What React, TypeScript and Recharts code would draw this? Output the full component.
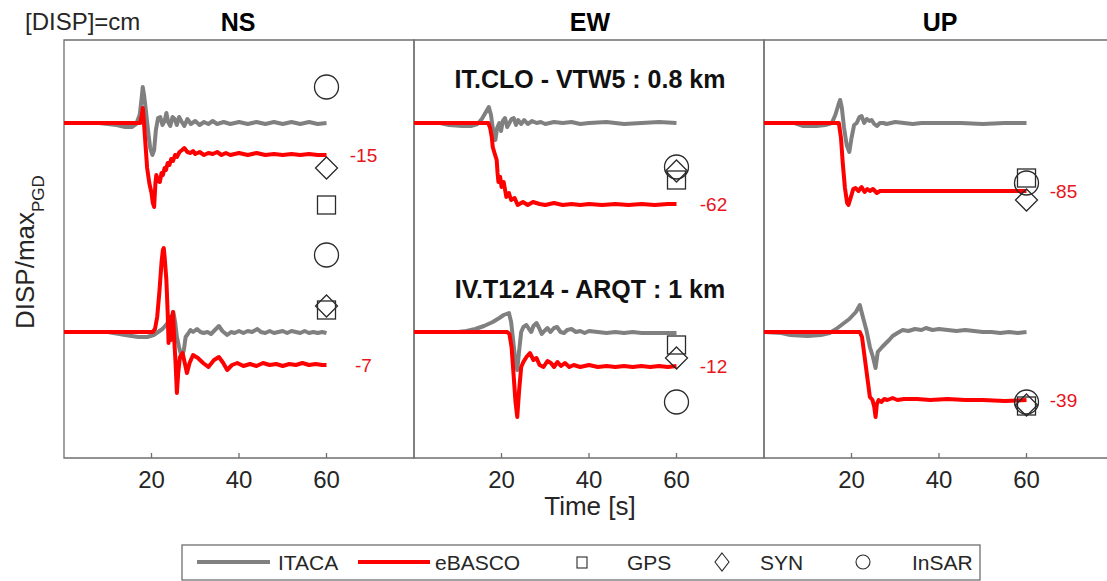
import React from 'react';
import { ComposedChart, Line, Scatter, XAxis, YAxis, ReferenceArea } from 'recharts';

type Pair = [number, number];

const FONT = '"Liberation Sans", Arial, Helvetica, sans-serif';
const AXIS_COLOR = '#6f6f6f';
const TEXT_COLOR = '#262626';
const ITACA_COLOR = '#808080';
const EBASCO_COLOR = '#ff0000';
const LABEL_COLOR = '#e8141c';

const TIME_TICKS = [20, 40, 60];
const X_DOMAIN: [number, number] = [0, 80];
const Y_DOMAIN: [number, number] = [-3.35, 0.83];
const STATION_OFFSETS = [0, -2.09];
const COMPONENTS = ['NS', 'EW', 'UP'];
const STATION_TITLES = ['IT.CLO - VTW5 : 0.8 km', 'IV.T1214 - ARQT : 1 km'];
const MARKER_TIME = 60;

// final static offsets (cm), per component: [station 1, station 2]
const NS_FINAL_CM = ['-15', '-7'];
const EW_FINAL_CM = ['-62', '-12'];
const UP_FINAL_CM = ['-85', '-39'];

// observed / synthetic static values (normalized), [station 1, station 2]
const NS_GPS = [-0.82, 0.22];
const NS_SYN = [-0.45, 0.26];
const NS_INSAR = [0.36, 0.77];
const EW_GPS = [-0.57, -0.13];
const EW_SYN = [-0.48, -0.26];
const EW_INSAR = [-0.44, -0.7];
const UP_GPS = [-0.55, -0.74];
const UP_SYN = [-0.77, -0.73];
const UP_INSAR = [-0.6, -0.7];

// ---- NS ----
const NS_ITACA_1: Pair[] = [[0,0],[8,0],[12,-0.02],[14,-0.04],[15.5,-0.04],[16.5,-0.01],[17.3,0.08],[17.7,0.23],[18,0.36],[18.3,0.28],[18.7,0.13],[19.2,-0.07],[19.7,-0.25],[20.2,-0.32],[20.6,-0.27],[21,-0.07],[21.5,0.05],[22,0.06],[22.5,-0.02],[23,0.02],[23.4,0.1],[23.8,0.01],[24.3,-0.03],[24.8,0.06],[25.3,0.04],[25.8,-0.02],[26.3,0.06],[26.8,0.02],[27.5,-0.03],[28.2,0.04],[29,-0.01],[30,0.02],[31,-0.02],[32,0.01],[33,-0.01],[34,0.02],[35,-0.01],[36.5,0.01],[38,-0.01],[40,0.01],[42,-0.01],[44,0.01],[46,-0.01],[48,0.01],[50,-0.01],[52,0.01],[54,-0.01],[56,0.01],[58,-0.01],[60,0]];
const NS_EBASCO_1: Pair[] = [[0,0],[17.4,0],[17.8,0.08],[18,0.15],[18.2,0.05],[18.6,-0.2],[19,-0.45],[19.5,-0.6],[20,-0.7],[20.3,-0.8],[20.6,-0.84],[20.9,-0.6],[21.1,-0.52],[21.5,-0.58],[21.9,-0.59],[22.3,-0.5],[22.6,-0.52],[23,-0.45],[23.3,-0.47],[23.7,-0.4],[24.1,-0.42],[24.5,-0.36],[24.9,-0.38],[25.4,-0.32],[25.8,-0.34],[26.4,-0.29],[27,-0.27],[27.5,-0.25],[28.2,-0.29],[28.9,-0.3],[29.5,-0.28],[30,-0.31],[31,-0.29],[32,-0.32],[33,-0.3],[34,-0.31],[35,-0.29],[36,-0.32],[37,-0.3],[38,-0.32],[40,-0.3],[42,-0.32],[44,-0.3],[46,-0.32],[48,-0.31],[50,-0.32],[52,-0.31],[54,-0.32],[56,-0.31],[58,-0.32],[60,-0.32]];
const NS_ITACA_2: Pair[] = [[0,0],[10,0],[14,-0.03],[17,-0.05],[19,-0.05],[20.5,-0.03],[21.5,0],[22.5,0.03],[23.5,0.08],[24.5,0.15],[25,0.2],[25.4,0.1],[25.8,-0.05],[26.3,-0.15],[26.7,-0.22],[27,-0.23],[27.4,-0.18],[27.8,-0.05],[28.3,-0.02],[28.9,0.02],[29.5,0],[30.4,0.03],[31.2,0],[31.9,-0.01],[32.8,0],[33.6,-0.02],[34.5,0.02],[35.4,0.06],[36.2,0.01],[37.3,-0.03],[38.2,0],[39,-0.01],[40,0.01],[41,-0.01],[42,0.01],[43,0],[44.2,0.03],[45,0],[46,-0.01],[47,0.01],[48,-0.01],[49,0],[50,0.01],[51,-0.01],[52,0.01],[53,0],[54,-0.01],[55,0.01],[56,-0.01],[57,0],[58,-0.01],[59,0],[60,-0.01]];
const NS_EBASCO_2: Pair[] = [[0,0],[20.3,0],[20.8,0.03],[21.3,0.15],[21.8,0.4],[22.3,0.7],[22.6,0.82],[22.8,0.84],[23,0.75],[23.4,0.52],[23.7,0.19],[23.9,-0.11],[24.2,0.15],[24.5,-0.08],[24.9,0.2],[25.2,-0.08],[25.5,-0.31],[25.8,-0.61],[26.1,-0.41],[26.5,-0.25],[27.1,-0.21],[27.6,-0.31],[28.1,-0.41],[28.7,-0.31],[29.5,-0.23],[30.6,-0.26],[31.8,-0.31],[33,-0.35],[34.3,-0.28],[35.4,-0.25],[36.4,-0.31],[37.3,-0.38],[38.4,-0.33],[39.6,-0.31],[41,-0.34],[42.5,-0.32],[44,-0.34],[45.5,-0.31],[47,-0.33],[48.5,-0.32],[50,-0.34],[51.5,-0.32],[53,-0.33],[54.5,-0.31],[56,-0.33],[57.5,-0.32],[59,-0.33],[60,-0.33]];

// ---- EW ----
const EW_ITACA_1: Pair[] = [[0,0],[6,0],[8,-0.02],[11,-0.03],[13,-0.03],[14.5,-0.01],[15.5,0.04],[16.3,0.1],[17.1,0.16],[17.6,0.08],[18,-0.05],[18.6,-0.17],[19,-0.05],[19.5,0],[19.9,-0.08],[20.3,0.02],[20.8,0.05],[21.3,-0.04],[21.8,0],[22.3,0.04],[22.8,0.05],[23.3,-0.02],[23.8,0.03],[24.5,-0.01],[25.2,0.03],[26,-0.01],[27,0.02],[28,0],[29,0.01],[30,-0.01],[32,0.01],[34,0],[36,0.01],[38,-0.01],[40,0],[44,0.01],[48,-0.01],[52,0],[56,0.01],[60,0]];
const EW_EBASCO_1: Pair[] = [[0,0],[17,0],[17.4,-0.05],[17.8,-0.15],[18,-0.24],[18.4,-0.3],[18.9,-0.37],[19.1,-0.5],[19.3,-0.59],[19.7,-0.54],[20,-0.64],[20.5,-0.59],[21.1,-0.74],[21.7,-0.7],[22.2,-0.77],[23,-0.75],[23.7,-0.82],[24.9,-0.79],[26,-0.82],[27.2,-0.79],[28.7,-0.81],[30,-0.82],[32,-0.8],[34,-0.82],[36,-0.81],[38,-0.82],[40,-0.81],[43,-0.82],[46,-0.81],[49,-0.82],[52,-0.81],[55,-0.82],[58,-0.81],[60,-0.81]];
const EW_ITACA_2: Pair[] = [[0,0],[10,0],[12,0.01],[14,0.03],[16,0.06],[18,0.1],[19.5,0.14],[20.5,0.17],[21.7,0.19],[22.2,0.1],[22.7,-0.1],[23.2,-0.3],[23.6,-0.38],[24,-0.2],[24.5,0],[25,0.05],[25.7,0.07],[26.3,0.03],[26.8,0],[27.3,0.06],[28,0.09],[28.6,0.04],[29.2,-0.02],[29.8,0.01],[30.5,0.04],[31.2,0],[32,0.04],[32.7,0.05],[33.5,0],[34.3,-0.01],[35,0.02],[36,0.03],[37,0],[38,0.01],[39,-0.01],[40,0.01],[42,0],[44,-0.01],[46,0],[48,-0.01],[50,0],[52,-0.01],[54,-0.01],[56,-0.01],[58,-0.01],[60,-0.01]];
const EW_EBASCO_2: Pair[] = [[0,0],[21.3,0],[21.8,-0.02],[22.3,-0.15],[22.8,-0.45],[23.2,-0.7],[23.6,-0.85],[24,-0.6],[24.5,-0.35],[25,-0.3],[25.7,-0.25],[26.5,-0.21],[27.3,-0.28],[28,-0.26],[28.7,-0.33],[29.6,-0.35],[30.5,-0.29],[31.3,-0.31],[32,-0.35],[32.8,-0.3],[33.6,-0.34],[34.5,-0.31],[35.5,-0.35],[36.5,-0.33],[38,-0.35],[40,-0.33],[42,-0.35],[44,-0.34],[46,-0.35],[48,-0.34],[50,-0.35],[52,-0.34],[54,-0.35],[56,-0.34],[58,-0.35],[60,-0.34]];

// ---- UP ----
const UP_ITACA_1: Pair[] = [[0,0],[7,0],[9,-0.03],[12,-0.03],[14,-0.02],[15.5,0],[16.3,0.08],[17,0.18],[17.4,0.23],[17.8,0.15],[18.3,-0.05],[18.9,-0.22],[19.5,-0.29],[20,-0.15],[20.6,-0.02],[21.2,0],[21.8,0.06],[22.3,0.07],[22.9,0],[23.5,0.04],[24.1,0.02],[24.6,0.03],[25.2,-0.01],[25.8,-0.03],[26.5,0],[27.3,0],[28,-0.01],[29,0],[30,0.01],[32,0],[34,-0.01],[36,0],[40,0],[45,0],[50,-0.01],[55,0],[60,0]];
const UP_EBASCO_1: Pair[] = [[0,0],[17.1,0],[17.6,-0.15],[18,-0.4],[18.5,-0.65],[19,-0.8],[19.3,-0.82],[19.8,-0.75],[20.4,-0.66],[20.9,-0.65],[21.6,-0.68],[22.3,-0.64],[23,-0.69],[23.6,-0.66],[24.2,-0.68],[24.9,-0.66],[25.8,-0.7],[26.5,-0.68],[28,-0.68],[30,-0.68],[35,-0.68],[40,-0.68],[45,-0.68],[50,-0.68],[55,-0.68],[60,-0.68]];
const UP_ITACA_2: Pair[] = [[0,0],[4,-0.01],[6,-0.03],[10,-0.04],[13,-0.03],[15,-0.01],[16.5,0.03],[18,0.08],[19.5,0.13],[21,0.2],[21.9,0.27],[22.6,0.15],[23.4,0.02],[24.2,-0.15],[24.9,-0.25],[25.5,-0.36],[26,-0.2],[26.4,-0.18],[27,-0.15],[27.9,-0.11],[28.6,-0.08],[29.4,-0.04],[30.5,-0.01],[31.7,0.02],[33,0.01],[34.5,0.03],[36,0.02],[37,0.04],[38.5,0.02],[40,0.03],[42,0.02],[44,0.01],[46,0.02],[48,0.01],[50,0],[52,0],[54,-0.01],[56,0],[58,-0.01],[60,0]];
const UP_EBASCO_2: Pair[] = [[0,0],[21.9,0],[22.4,-0.05],[23,-0.25],[23.6,-0.45],[24.2,-0.65],[24.8,-0.68],[25.2,-0.75],[25.5,-0.85],[25.8,-0.72],[26.2,-0.68],[26.8,-0.7],[27.5,-0.67],[28.2,-0.68],[29.4,-0.66],[30.5,-0.68],[32,-0.67],[35,-0.67],[38,-0.68],[42,-0.67],[46,-0.68],[50,-0.68],[55,-0.69],[60,-0.68]];

type Row = { t: number; v: number };
const shift = (pairs: Pair[], offset: number): Row[] => pairs.map(([t, v]) => ({ t, v: v + offset }));

interface PanelDef {
  name: string;
  left: number;
  itaca: Pair[][];
  ebasco: Pair[][];
  gps: number[];
  syn: number[];
  insar: number[];
  finals: string[];
}

const PANEL_DEFS: PanelDef[] = [
  { name: COMPONENTS[0], left: 64, itaca: [NS_ITACA_1, NS_ITACA_2], ebasco: [NS_EBASCO_1, NS_EBASCO_2], gps: NS_GPS, syn: NS_SYN, insar: NS_INSAR, finals: NS_FINAL_CM },
  { name: COMPONENTS[1], left: 414, itaca: [EW_ITACA_1, EW_ITACA_2], ebasco: [EW_EBASCO_1, EW_EBASCO_2], gps: EW_GPS, syn: EW_SYN, insar: EW_INSAR, finals: EW_FINAL_CM },
  { name: COMPONENTS[2], left: 764, itaca: [UP_ITACA_1, UP_ITACA_2], ebasco: [UP_EBASCO_1, UP_EBASCO_2], gps: UP_GPS, syn: UP_SYN, insar: UP_INSAR, finals: UP_FINAL_CM },
];

const MARK_STROKE = '#2a2a2a';
const TRACE_WIDTH = 4;

const CircleShape = (p: any) => (
  <circle cx={p.cx} cy={p.cy} r={12} fill="none" stroke={MARK_STROKE} strokeWidth={1.3} />
);
const SquareShape = (p: any) => (
  <rect x={p.cx - 9} y={p.cy - 9} width={18} height={18} fill="none" stroke={MARK_STROKE} strokeWidth={1.3} />
);
const DiamondShape = (p: any) => (
  <polygon
    points={`${p.cx},${p.cy - 11} ${p.cx + 11},${p.cy} ${p.cx},${p.cy + 11} ${p.cx - 11},${p.cy}`}
    fill="none"
    stroke={MARK_STROKE}
    strokeWidth={1.3}
  />
);
const LabelShape = (p: any) => (
  <text x={p.cx + 37} y={p.cy + 7} textAnchor="middle" fontSize={19} fill={LABEL_COLOR} fontFamily={FONT}>
    {p.payload.label}
  </text>
);

const BottomTick = (p: any) => (
  <g>
    <line x1={p.x} x2={p.x} y1={p.y} y2={p.y - 5} stroke={AXIS_COLOR} strokeWidth={1.3} />
    <text x={p.x} y={p.y + 30} textAnchor="middle" fontSize={24} fill={TEXT_COLOR} fontFamily={FONT}>
      {p.payload.value}
    </text>
  </g>
);
const TopTick = (p: any) => (
  <line x1={p.x} x2={p.x} y1={p.y} y2={p.y + 5} stroke={AXIS_COLOR} strokeWidth={1.3} />
);

function Panel({ def }: { def: PanelDef }) {
  const itaca = def.itaca.map((s, i) => shift(s, STATION_OFFSETS[i]));
  const ebasco = def.ebasco.map((s, i) => shift(s, STATION_OFFSETS[i]));
  const mk = (vals: number[]) => vals.map((v, i) => ({ t: MARKER_TIME, v: v + STATION_OFFSETS[i] }));
  const labels = def.ebasco.map((s, i) => ({
    t: s[s.length - 1][0],
    v: s[s.length - 1][1] + STATION_OFFSETS[i],
    label: def.finals[i],
  }));
  return (
    <div style={{ position: 'absolute', left: def.left - 2, top: 38 }}>
      <ComposedChart width={354} height={472} margin={{ top: 2, right: 2, bottom: 2, left: 2 }}>
        <XAxis
          dataKey="t"
          type="number"
          domain={X_DOMAIN}
          allowDataOverflow
          ticks={TIME_TICKS}
          height={50}
          axisLine={false}
          tickLine={false}
          tickSize={0}
          tickMargin={0}
          tick={<BottomTick />}
          interval={0}
        />
        <XAxis
          xAxisId="top"
          orientation="top"
          dataKey="t"
          type="number"
          domain={X_DOMAIN}
          allowDataOverflow
          ticks={TIME_TICKS}
          height={0}
          axisLine={false}
          tickLine={false}
          tickSize={0}
          tickMargin={0}
          tick={<TopTick />}
          interval={0}
        />
        <YAxis type="number" domain={Y_DOMAIN} allowDataOverflow hide width={0} />
        <ReferenceArea x1={X_DOMAIN[0]} x2={X_DOMAIN[1]} y1={Y_DOMAIN[0]} y2={Y_DOMAIN[1]} fill="none" stroke={AXIS_COLOR} strokeWidth={1.3} fillOpacity={0} strokeOpacity={1} />
        {itaca.map((d, i) => (
          <Line key={`g${i}`} data={d} dataKey="v" stroke={ITACA_COLOR} strokeWidth={TRACE_WIDTH} strokeLinejoin="round" dot={false} activeDot={false} isAnimationActive={false} type="linear" />
        ))}
        {ebasco.map((d, i) => (
          <Line key={`r${i}`} data={d} dataKey="v" stroke={EBASCO_COLOR} strokeWidth={TRACE_WIDTH} strokeLinejoin="round" dot={false} activeDot={false} isAnimationActive={false} type="linear" />
        ))}
        <Scatter data={mk(def.gps)} dataKey="v" shape={SquareShape} isAnimationActive={false} />
        <Scatter data={mk(def.syn)} dataKey="v" shape={DiamondShape} isAnimationActive={false} />
        <Scatter data={mk(def.insar)} dataKey="v" shape={CircleShape} isAnimationActive={false} />
        <Scatter data={labels} dataKey="v" shape={LabelShape} isAnimationActive={false} />
      </ComposedChart>
    </div>
  );
}

const TITLE_X = [238, 590, 940];

export default function App() {
  return (
    <div style={{ position: 'absolute', left: 0, top: 0, width: 1107, height: 581, overflow: 'hidden', background: '#fff', fontFamily: FONT }}>
      {PANEL_DEFS.map((d) => (
        <Panel key={d.name} def={d} />
      ))}
      <svg width={1107} height={581} style={{ position: 'absolute', left: 0, top: 0, pointerEvents: 'none' }} fontFamily={FONT}>
        <text x={25} y={30} fontSize={24} fill={TEXT_COLOR}>[DISP]=cm</text>
        {COMPONENTS.map((c, i) => (
          <text key={c} x={TITLE_X[i]} y={31} fontSize={25} fontWeight="bold" textAnchor="middle" fill="#000">{c}</text>
        ))}
        <text x={590} y={88} fontSize={25} fontWeight="bold" textAnchor="middle" fill="#111">{STATION_TITLES[0]}</text>
        <text x={590} y={298} fontSize={25} fontWeight="bold" textAnchor="middle" fill="#111">{STATION_TITLES[1]}</text>
        <text transform="translate(34,329) rotate(-90)" fontSize={26} fill={TEXT_COLOR}>
          DISP/max<tspan fontSize={17} dy={10}>PGD</tspan>
        </text>
        <text x={590} y={515} fontSize={26} textAnchor="middle" fill={TEXT_COLOR}>Time [s]</text>
        {/* legend */}
        <rect x={182} y={545} width={798} height={35} fill="#fff" stroke={AXIS_COLOR} strokeWidth={1.3} />
        <line x1={197} x2={270} y1={562} y2={562} stroke={ITACA_COLOR} strokeWidth={TRACE_WIDTH} />
        <text x={278} y={570} fontSize={21} fill={TEXT_COLOR}>ITACA</text>
        <line x1={358} x2={430} y1={562} y2={562} stroke={EBASCO_COLOR} strokeWidth={TRACE_WIDTH} />
        <text x={435} y={570} fontSize={21} fill={TEXT_COLOR}>eBASCO</text>
        <rect x={577} y={557} width={10} height={11} fill="none" stroke={MARK_STROKE} strokeWidth={1.1} />
        <text x={627} y={570} fontSize={21} fill={TEXT_COLOR}>GPS</text>
        <polygon points="722,553 729,562 722,571 715,562" fill="none" stroke={MARK_STROKE} strokeWidth={1.1} />
        <text x={760} y={570} fontSize={21} fill={TEXT_COLOR}>SYN</text>
        <circle cx={863} cy={562} r={7} fill="none" stroke={MARK_STROKE} strokeWidth={1.1} />
        <text x={912} y={570} fontSize={21} fill={TEXT_COLOR}>InSAR</text>
      </svg>
    </div>
  );
}
